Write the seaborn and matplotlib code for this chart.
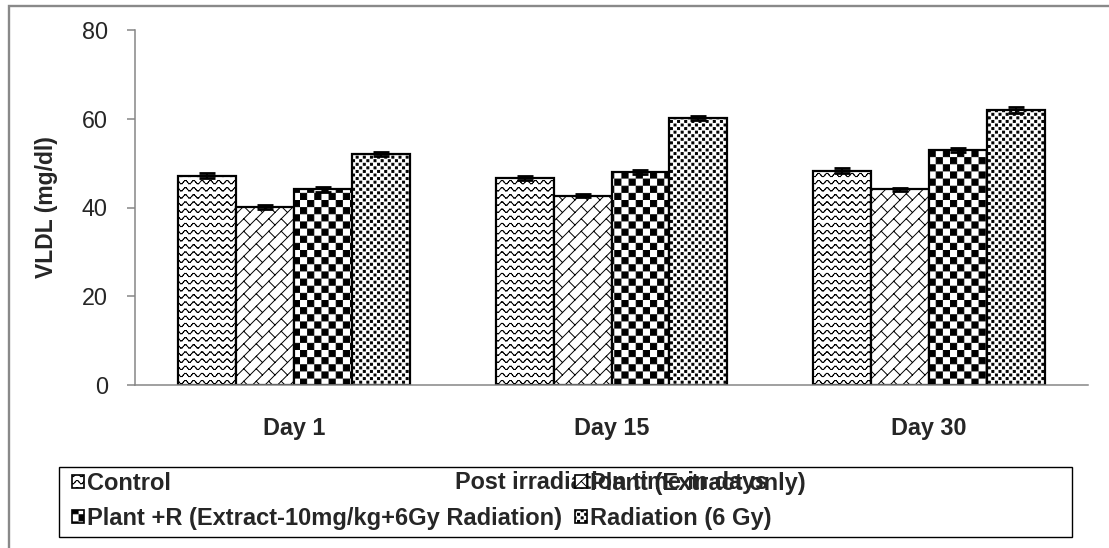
import warnings
import numpy as np
import pandas as pd
import matplotlib
matplotlib.use('Agg')
import matplotlib.pyplot as plt
import matplotlib.hatch as mhatch
from matplotlib.patches import Patch, Rectangle
from matplotlib.path import Path
import seaborn as sns

warnings.filterwarnings('ignore')

# DATA =================================
days = ['Day 1', 'Day 15', 'Day 30']
groups = ['Control', 'Plant (Extract only)',
          'Plant +R (Extract-10mg/kg+6Gy Radiation)', 'Radiation (6 Gy)']
control = [47.2, 46.6, 48.3]
plant = [40.1, 42.7, 44.1]
plant_r = [44.1, 48.0, 53.0]
radiation = [52.1, 60.2, 62.0]
errors = [[0.5, 0.4, 0.5], [0.4, 0.3, 0.4], [0.5, 0.4, 0.5], [0.5, 0.5, 0.7]]
hatches = ['w', 'k', 'c', 'q']

W, H = 1109, 548
GRAY = '#868686'
HATCH_LW = 0.7  # points
LW_UNIT = HATCH_LW / 72  # hatch tile is 72 pt wide


# CUSTOM FILL PATTERNS =================
def seg_path(segs):
    segs = np.asarray(segs, float).reshape(-1, 2, 2)
    codes = np.tile([Path.MOVETO, Path.LINETO], len(segs)).astype(Path.code_type)
    return segs.reshape(-1, 2), codes


def square_path(centers, side):
    h = side / 2
    sq = np.array([[-h, -h], [h, -h], [h, h], [-h, h], [-h, -h]])
    centers = np.asarray(centers, float)
    verts = (centers[:, None, :] + sq[None]).reshape(-1, 2)
    codes = np.tile([Path.MOVETO, Path.LINETO, Path.LINETO, Path.LINETO,
                     Path.CLOSEPOLY], len(centers)).astype(Path.code_type)
    return verts, codes


class TileHatch(mhatch.HatchPatternBase):
    key = '?'

    def __init__(self, hatch, density):
        if self.key in hatch:
            self.verts, self.codes = self.build()
        else:
            self.verts = np.empty((0, 2))
            self.codes = np.empty(0, dtype=Path.code_type)
        self.num_vertices = len(self.verts)

    def set_vertices_and_codes(self, vertices, codes):
        vertices[:] = self.verts
        codes[:] = self.codes


class WaveHatch(TileHatch):
    key = 'w'

    def build(self):
        x = np.linspace(0, 1, 12 * 6 + 1)
        segs = []
        for row in range(14):
            y = (row + 0.5) / 14 + 0.018 * np.sin(2 * np.pi * 12 * x)
            pts = np.column_stack([x, y])
            segs += [[pts[i], pts[i + 1]] for i in range(len(x) - 1)]
        return seg_path(segs)


class BrickHatch(TileHatch):
    key = 'k'

    def build(self):
        n, b = 8, 0.25
        segs = []
        for k in range(-n - 1, n + 1):
            w0, w1 = k / n, (k + 1) / n
            segs.append([[-0.5, -0.5 + w0], [1.5, 1.5 + w0]])
            for j in range(-2, 10):
                z = (j + 0.5 * (k % 2)) * b
                segs.append([[(z - w0) / 2, (z + w0) / 2],
                             [(z - w1) / 2, (z + w1) / 2]])
        return seg_path(segs)


class CheckerHatch(TileHatch):
    key = 'c'

    def build(self):
        n = 14
        c = 1 / n
        centers = [((i + 0.5) * c, (j + 0.5) * c)
                   for i in range(n) for j in range(n) if (i + j) % 2 == 0]
        return square_path(centers, c - LW_UNIT)


class DotHatch(TileHatch):
    key = 'q'

    def build(self):
        nx, ny = 14, 28
        centers = [((i + 0.5 * (r % 2)) / nx, r / ny)
                   for r in range(-1, ny + 1) for i in range(-1, nx + 1)]
        return square_path(centers, 0.02)


mhatch._hatch_types.extend([WaveHatch, BrickHatch, CheckerHatch, DotHatch])


# PLOT =================================
df = pd.DataFrame({
    'Day': np.tile(days, 4),
    'Group': np.repeat(groups, 3),
    'VLDL': control + plant + plant_r + radiation,
})

sns.set_style('white')
plt.rcParams['font.family'] = ['Liberation Sans', 'DejaVu Sans']
plt.rcParams['hatch.linewidth'] = HATCH_LW
plt.rcParams['hatch.color'] = 'black'

fig = plt.figure(figsize=(W / 100, H / 100), dpi=100)
ax = fig.add_axes([135 / W, 1 - 385 / H, 953 / W, 355 / H])

sns.barplot(data=df, x='Day', y='VLDL', hue='Group', order=days, hue_order=groups,
            palette=['white'] * 4, saturation=1, edgecolor='black', linewidth=1.6,
            width=0.73, gap=0, errorbar=None, legend=False, ax=ax)

for cont, hatch, err in zip(ax.containers, hatches, errors):
    xs = []
    for bar in cont:
        bar.set_hatch(hatch)
        xs.append(bar.get_x() + bar.get_width() / 2)
    ax.errorbar(xs, cont.datavalues, yerr=err, fmt='none', ecolor='black',
                elinewidth=1.5, capsize=5.5, capthick=2, zorder=5)

ax.set_ylim(0, 80)
ax.set_yticks([0, 20, 40, 60, 80])
ax.set_xlim(-0.5, 2.5)
ax.set_xticks([-0.5, 0.5, 1.5, 2.5], minor=True)
ax.tick_params(axis='x', which='major', length=0, pad=23, labelsize=16.8)
ax.tick_params(axis='x', which='minor', length=6, width=1.1, color=GRAY)
ax.tick_params(axis='y', length=6, width=1.1, color=GRAY, pad=13.5,
               labelsize=16.8, left=True)
for lbl in ax.get_xticklabels():
    lbl.set_fontweight('bold')

sns.despine(ax=ax)
for side in ['left', 'bottom']:
    ax.spines[side].set_color(GRAY)
    ax.spines[side].set_linewidth(1.1)

ax.set_ylabel('VLDL (mg/dl)', fontsize=16.5, fontweight='bold')
ax.yaxis.set_label_coords(-0.081, 0.5)
ax.set_xlabel('Post irradiation time in days', fontsize=16.8, fontweight='bold')
ax.xaxis.set_label_coords(0.5, -0.242)

# legend (column-wise order for two columns)
order = [0, 2, 1, 3]
handles = [Patch(facecolor='white', edgecolor='black', linewidth=1.2,
                 hatch=hatches[i]) for i in order]
ax.legend(handles, [groups[i] for i in order], loc='upper left',
          bbox_to_anchor=(72 / W, 1 - 472 / H), bbox_transform=fig.transFigure,
          ncol=2, frameon=False, borderpad=0, borderaxespad=0,
          handlelength=0.5, handleheight=0.5, handletextpad=0.15,
          columnspacing=0.54, labelspacing=0.5,
          prop={'weight': 'bold', 'size': 17})

# legend box and outer chart frame
fig.add_artist(Rectangle((59 / W, 1 - 537 / H), (1072 - 59) / W, 70 / H,
                         transform=fig.transFigure, fill=False,
                         edgecolor='black', linewidth=1.0))
fig.add_artist(Rectangle((8.5 / W, -0.05), 1.1, (H - 6) / H + 0.05,
                         transform=fig.transFigure, fill=False,
                         edgecolor='#898989', linewidth=1.7))

fig.savefig('out.png', dpi=100)
